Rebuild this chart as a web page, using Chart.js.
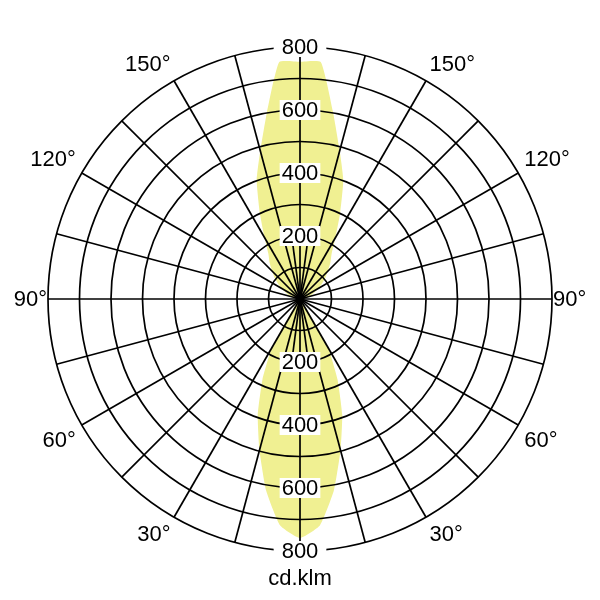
<!DOCTYPE html>
<html>
<head>
<meta charset="utf-8">
<script src="https://cdn.jsdelivr.net/npm/chart.js@4.4.1/dist/chart.umd.min.js"></script>
<style>
  html, body { margin: 0; padding: 0; background: #ffffff; }
  #wrap { width: 600px; height: 600px; }
</style>
</head>
<body>
<div id="wrap"><canvas id="c" width="600" height="600"></canvas></div>
<script>
// Gamma angles (0° = downward, 180° = upward), 5° steps
const gammaAngles = [0,5,10,15,20,25,30,35,40,45,50,55,60,65,70,75,80,85,90,
                     95,100,105,110,115,120,125,130,135,140,145,150,155,160,165,170,175,180];
// Luminous intensity (cd/klm) per gamma angle, C0-C180 plane (symmetric)
const intensity = [759,722,618,497,392,282,178,30,5,0,0,0,0,0,0,0,0,0,0,
                   9,18,28,40,52,68,85,105,125,150,175,225,302,402,487,603,755,753];
// Radial scale
const scaleMax = 800;
const ringStep = 100;
const tickLabelValues = [200, 400, 600, 800];
// Angle labels shown on both sides
const angleLabelValues = [30, 60, 90, 120, 150];
const unitLabel = 'cd.klm';

// Radar label order: clockwise from top. Right half 180 -> 0, left half 5 -> 175
const radarGammas = [...gammaAngles.slice().reverse(), ...gammaAngles.slice(1, gammaAngles.length - 1)];
const radarData = radarGammas.map(g => intensity[gammaAngles.indexOf(g)]);

const FONT = '22px "Liberation Sans", Arial, sans-serif';
const INK = '#000000';
const LINE_W = 1.7;

const overlay = {
  id: 'overlay',
  afterDraw(chart) {
    const s = chart.scales.r;
    const ctx = chart.ctx;
    const nTop = 0;
    const nBottom = gammaAngles.length - 1;
    const R = s.getDistanceFromCenterForValue(scaleMax);
    ctx.save();
    // short 7.5° lines near the vertical axis
    const r200 = s.getDistanceFromCenterForValue(200);
    ctx.strokeStyle = '#000';
    ctx.lineWidth = LINE_W;
    [nTop, nBottom].forEach(idx => {
      [7.5, -7.5].forEach(a => {
        const p = s.getPointPosition(idx, r200, a * Math.PI / 180);
        ctx.beginPath();
        ctx.moveTo(s.xCenter, s.yCenter);
        ctx.lineTo(p.x, p.y);
        ctx.stroke();
      });
    });
    // center dot
    ctx.fillStyle = '#000';
    ctx.beginPath();
    ctx.arc(s.xCenter, s.yCenter, 4.5, 0, Math.PI * 2);
    ctx.fill();

    ctx.font = FONT;
    // tick labels with white backdrop, top and bottom
    ctx.textAlign = 'center';
    ctx.textBaseline = 'middle';
    [nTop, nBottom].forEach(idx => {
      tickLabelValues.forEach(v => {
        const p = s.getPointPositionForValue(idx, v);
        const txt = String(v);
        const w = ctx.measureText(txt).width;
        const padX = v === scaleMax ? 8 : 2;
        ctx.fillStyle = '#ffffff';
        ctx.fillRect(p.x - w / 2 - padX, p.y - 10, w + 2 * padX, 20);
        ctx.fillStyle = INK;
        ctx.fillText(txt, p.x, p.y + 1);
      });
    });
    // angle labels
    angleLabelValues.forEach(g => {
      const rightIdx = radarGammas.indexOf(g);
      const leftIdx = radarGammas.lastIndexOf(g);
      const gap = g === 90 ? 1 : 7;
      [[rightIdx, 'left'], [leftIdx, 'right']].forEach(([idx, align]) => {
        const p = s.getPointPosition(idx, R + gap);
        let y = p.y;
        if (g < 90) y += 11; else if (g > 90) y -= 11;
        ctx.textAlign = align;
        ctx.textBaseline = 'middle';
        ctx.fillStyle = INK;
        ctx.fillText(g + '°', p.x, y + 1);
      });
    });
    // unit label
    const pb = s.getPointPositionForValue(nBottom, scaleMax);
    ctx.textAlign = 'center';
    ctx.textBaseline = 'middle';
    ctx.fillText(unitLabel, pb.x, pb.y + 28);
    ctx.restore();
  }
};

new Chart(document.getElementById('c'), {
  type: 'radar',
  data: {
    labels: radarGammas.map(g => g + '°'),
    datasets: [{
      data: radarData,
      fill: 'origin',
      backgroundColor: 'rgb(240,240,146)',
      borderColor: 'rgba(0,0,0,0)',
      borderWidth: 0,
      pointRadius: 0,
      pointHoverRadius: 0,
      tension: 0.15
    }]
  },
  options: {
    responsive: false,
    animation: false,
    events: [],
    layout: { padding: { left: 48, right: 48, top: 47, bottom: 49 } },
    plugins: { legend: { display: false }, tooltip: { enabled: false } },
    scales: {
      r: {
        min: 0,
        max: scaleMax,
        startAngle: 0,
        ticks: { display: false, stepSize: ringStep },
        pointLabels: { display: false },
        grid: { color: '#000', lineWidth: LINE_W, circular: true, z: 1 },
        angleLines: {
          display: true,
          color: '#000',
          lineWidth: (c) => (c.index % 3 === 0 ? LINE_W : 0)
        }
      }
    }
  },
  plugins: [overlay]
});
</script>
</body>
</html>
